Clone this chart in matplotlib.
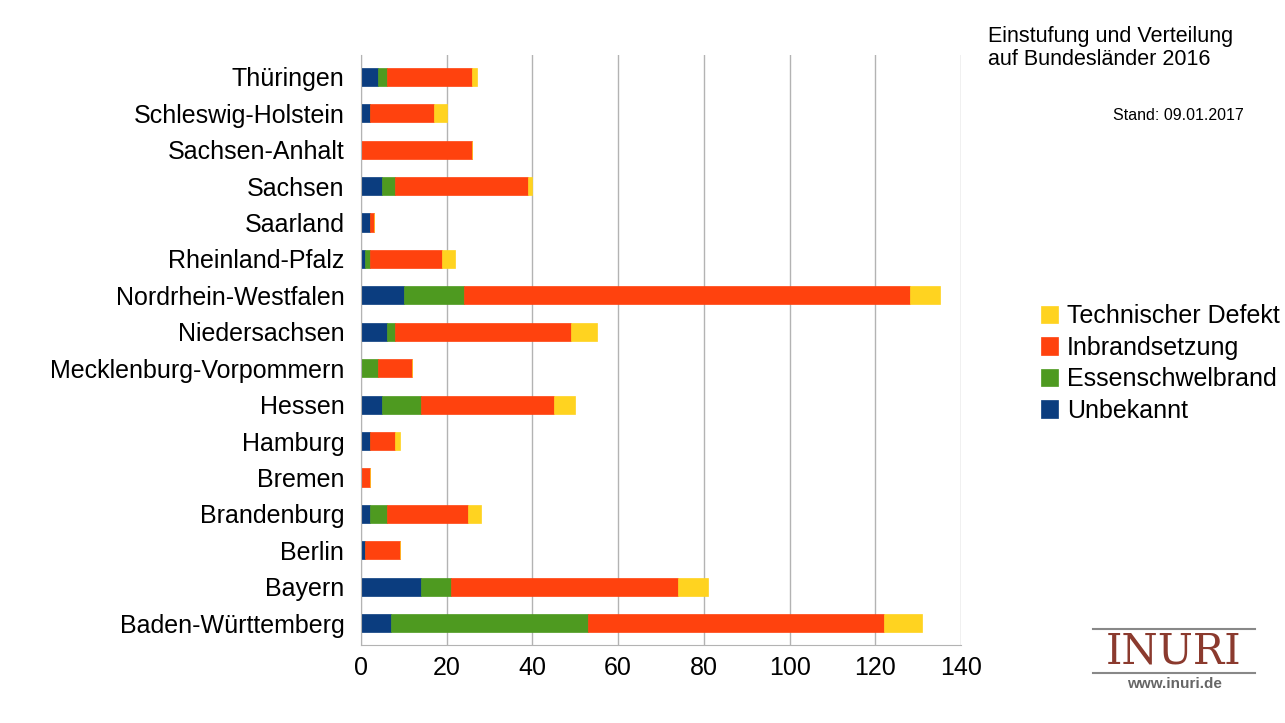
import matplotlib.pyplot as plt
import numpy as np
plt.rcParams['font.family'] = ['Liberation Sans', 'DejaVu Sans']

states = ["Baden-Württemberg","Bayern","Berlin","Brandenburg","Bremen","Hamburg","Hessen",
          "Mecklenburg-Vorpommern","Niedersachsen","Nordrhein-Westfalen","Rheinland-Pfalz",
          "Saarland","Sachsen","Sachsen-Anhalt","Schleswig-Holstein","Thüringen"]
unbekannt = [7,14,1,2,0,2,5,0,6,10,1,2,5,0,2,4]
essen     = [46,7,0,4,0,0,9,4,2,14,1,0,3,0,0,2]
inbrand   = [69,53,8,19,2,6,31,8,41,104,17,1,31,26,15,20]
technisch = [9,7,0,3,0,1,5,0,6,7,3,0,1,0,3,1]

series = [("Unbekannt",unbekannt,"#0b3d7f"),("Essenschwelbrand",essen,"#4e9a20"),
          ("Inbrandsetzung",inbrand,"#ff420e"),("Technischer Defekt",technisch,"#ffd320")]

fig = plt.figure(figsize=(12.85,7.23), dpi=100)
ax = fig.add_axes([361/1285, 1-645/723, 600/1285, 590/723])
y = np.arange(len(states))
left = np.zeros(len(states))
handles = []
for name, vals, col in series:
    v = np.array(vals, float)
    h = ax.barh(y, v, left=left, height=0.5, color=col, edgecolor=col, linewidth=0.5, label=name)
    handles.append(h)
    left += v
ax.set_xlim(0,140)
ax.set_ylim(-0.6, len(states)-0.4)
ax.set_xticks(range(0,141,20))
ax.set_yticks(y)
ax.set_yticklabels(states, fontsize=18)
ax.tick_params(axis='x', labelsize=18, length=0, pad=8)
ax.tick_params(axis='y', length=0, pad=12)
ax.grid(axis='x', color='#b3b3b3', linewidth=1)
ax.set_axisbelow(True)
for s in ['top','right']:
    ax.spines[s].set_visible(False)
ax.spines['left'].set_color('#b3b3b3')
ax.spines['bottom'].set_color('#b3b3b3')
leg = fig.legend(handles[::-1], [s[0] for s in series[::-1]], loc='upper left',
                 bbox_to_anchor=(1018/1285, 1-282/723), frameon=False, fontsize=18,
                 handlelength=0.7, handleheight=0.7, labelspacing=0.3, handletextpad=0.35)
fig.text(988/1285, 1-48/723, "Einstufung und Verteilung\nauf Bundesländer 2016", fontsize=15.5,
         va='center', ha='left', linespacing=1.1)
fig.text(1244/1285, 1-115/723, "Stand: 09.01.2017", fontsize=11.5, ha='right', va='center')
fig.text(1174/1285, 1-652/723, "INURI", fontsize=30, family='DejaVu Serif', color='#8b3a2e',
         ha='center', va='center')
fig.lines.append(plt.Line2D([1093/1285,1255/1285],[1-629/723,1-629/723], transform=fig.transFigure, color='#888888', lw=1.5))
fig.lines.append(plt.Line2D([1093/1285,1255/1285],[1-673/723,1-673/723], transform=fig.transFigure, color='#888888', lw=1.5))
fig.text(1174/1285, 1-684/723, "www.inuri.de", fontsize=11, color='#666666', ha='center', va='center', weight='bold')
fig.savefig("out.png", dpi=100)
